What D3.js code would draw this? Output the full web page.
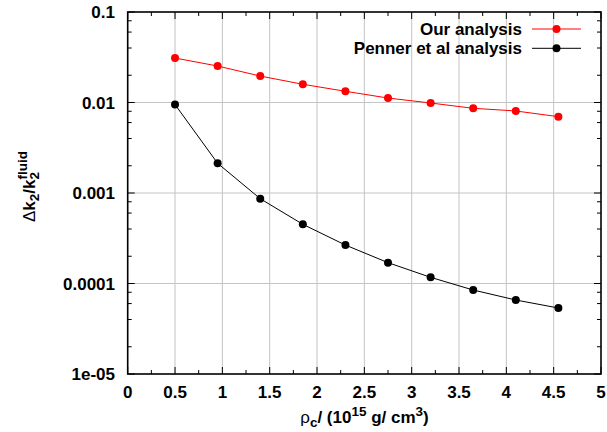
<!DOCTYPE html>
<html><head><meta charset="utf-8">
<script src="https://cdn.jsdelivr.net/npm/d3@7"></script>
<style>
body{margin:0;background:#fff;}
text{font-family:"Liberation Sans",Arial,sans-serif;font-weight:bold;font-size:17px;fill:#000;}
</style></head>
<body><svg id="c" width="607" height="432"></svg>
<script>
const rho = [0.5, 0.95, 1.4, 1.85, 2.3, 2.75, 3.2, 3.65, 4.1, 4.55];
const ourAnalysis = [0.031, 0.0253, 0.0196, 0.0159, 0.0133, 0.0112, 0.00987, 0.00863, 0.00806, 0.00697];
const pennerAnalysis = [0.0095, 0.00213, 0.000865, 0.000451, 0.000266, 0.00017, 0.000117, 0.0000847, 0.0000657, 0.0000536];
const seriesNames = ["Our analysis", "Penner et al analysis"];
const seriesColors = ["#ff0000", "#000000"];
const xTicks = [0, 0.5, 1, 1.5, 2, 2.5, 3, 3.5, 4, 4.5, 5];
const xTickLabels = ["0", "0.5", "1", "1.5", "2", "2.5", "3", "3.5", "4", "4.5", "5"];
const yTicks = [1e-5, 1e-4, 1e-3, 1e-2, 1e-1];
const yTickLabels = ["1e-05", "0.0001", "0.001", "0.01", "0.1"];

const L = 127.7, R = 601, T = 12, B = 374;
const svg = d3.select("#c");
const x = d3.scaleLinear().domain([0, 5]).range([L, R]);
const y = d3.scaleLog().domain([1e-5, 0.1]).range([B, T]);

// grid
const g = svg.append("g");
xTicks.filter(v => v > 0 && v < 5).forEach(v => {
  g.append("line").attr("x1", x(v)).attr("x2", x(v)).attr("y1", T).attr("y2", B)
    .attr("stroke", "#c4c4c4").attr("stroke-width", 1);
});
yTicks.filter(v => v > 1e-5 && v < 0.1).forEach(v => {
  g.append("line").attr("x1", L).attr("x2", R).attr("y1", y(v)).attr("y2", y(v))
    .attr("stroke", "#c4c4c4").attr("stroke-width", 1);
});

// ticks (inward, mirrored)
const tk = svg.append("g").attr("stroke", "#000").attr("stroke-width", 1);
const xMinor = d3.range(0.25, 5, 0.5);
xTicks.forEach(v => {
  tk.append("line").attr("x1", x(v)).attr("x2", x(v)).attr("y1", B).attr("y2", B - 7);
  tk.append("line").attr("x1", x(v)).attr("x2", x(v)).attr("y1", T).attr("y2", T + 7);
});
xMinor.forEach(v => {
  tk.append("line").attr("x1", x(v)).attr("x2", x(v)).attr("y1", B).attr("y2", B - 4);
  tk.append("line").attr("x1", x(v)).attr("x2", x(v)).attr("y1", T).attr("y2", T + 4);
});
yTicks.forEach(v => {
  tk.append("line").attr("x1", L).attr("x2", L + 7).attr("y1", y(v)).attr("y2", y(v));
  tk.append("line").attr("x1", R).attr("x2", R - 7).attr("y1", y(v)).attr("y2", y(v));
});
yTicks.slice(0, -1).forEach(v => {
  [2, 4, 6, 8].forEach(m => {
    const yy = y(v * m);
    tk.append("line").attr("x1", L).attr("x2", L + 4).attr("y1", yy).attr("y2", yy);
    tk.append("line").attr("x1", R).attr("x2", R - 4).attr("y1", yy).attr("y2", yy);
  });
});

// frame
svg.append("rect").attr("x", L).attr("y", T).attr("width", R - L).attr("height", B - T)
  .attr("fill", "none").attr("stroke", "#000").attr("stroke-width", 1.6);

// tick labels
xTicks.forEach((v, i) => {
  svg.append("text").attr("x", x(v)).attr("y", 398).attr("text-anchor", "middle").text(xTickLabels[i]);
});
yTicks.forEach((v, i) => {
  svg.append("text").attr("x", 115).attr("y", y(v) + 6).attr("text-anchor", "end").text(yTickLabels[i]);
});

// series
const series = [ourAnalysis, pennerAnalysis];
const line = d3.line().x((d, i) => x(rho[i])).y(d => y(d));
series.forEach((s, k) => {
  svg.append("path").datum(s).attr("d", line).attr("fill", "none")
    .attr("stroke", seriesColors[k]).attr("stroke-width", 1);
  svg.selectAll(null).data(s).enter().append("circle")
    .attr("cx", (d, i) => x(rho[i])).attr("cy", d => y(d)).attr("r", 4)
    .attr("fill", seriesColors[k]);
});

// legend
seriesNames.forEach((n, k) => {
  const ly = 29 + k * 19.3;
  svg.append("text").attr("x", 522).attr("y", ly + 6).attr("text-anchor", "end").text(n);
  svg.append("line").attr("x1", 532).attr("x2", 581).attr("y1", ly).attr("y2", ly)
    .attr("stroke", seriesColors[k]).attr("stroke-width", 1);
  svg.append("circle").attr("cx", 556.5).attr("cy", ly).attr("r", 4).attr("fill", seriesColors[k]);
});

// x axis title
const xt = svg.append("text").attr("x", 364.5).attr("y", 423).attr("text-anchor", "middle");
xt.append("tspan").style("font-weight", "normal").text("ρ");
xt.append("tspan").attr("dy", 4).style("font-size", "13.5px").text("c");
xt.append("tspan").attr("dy", -4).text("/ (10");
xt.append("tspan").attr("dy", -7).style("font-size", "13.5px").text("15");
xt.append("tspan").attr("dy", 7).text(" g/ cm");
xt.append("tspan").attr("dy", -7).style("font-size", "13.5px").text("3");
xt.append("tspan").attr("dy", 7).text(")");

// y axis title (k_2^{fluid}: sub and sup stacked)
const yt = svg.append("text").attr("transform", "translate(35,222) rotate(-90)").attr("text-anchor", "start");
yt.append("tspan").style("font-weight", "normal").text("Δ");
yt.append("tspan").text("k");
yt.append("tspan").attr("dy", 4).style("font-size", "13.5px").text("2");
yt.append("tspan").attr("dy", -4).text("/k");
const sub2 = yt.append("tspan").attr("dy", 4).style("font-size", "13.5px").text("2");
const w2 = sub2.node().getComputedTextLength();
yt.append("tspan").attr("dx", -w2).attr("dy", -12).style("font-size", "13.5px").text("fluid");
</script></body></html>
